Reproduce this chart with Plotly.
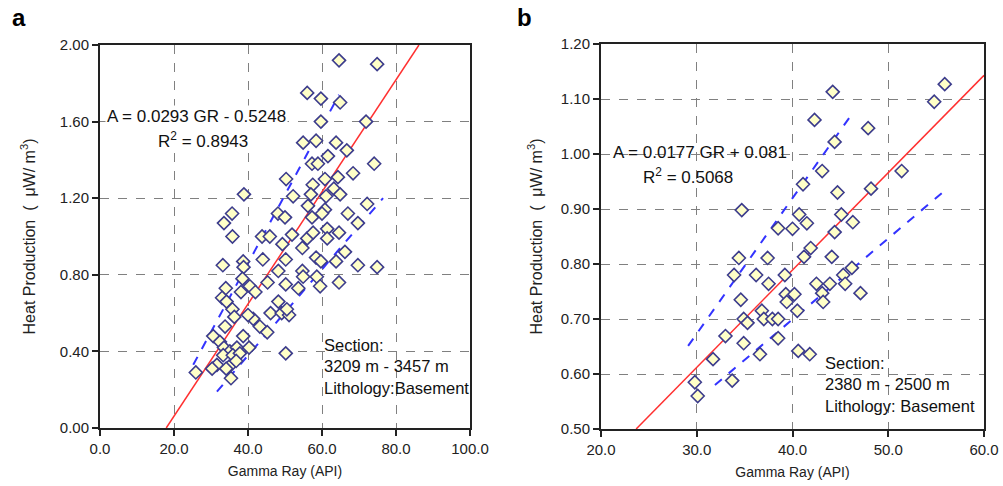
import plotly.graph_objects as go

# ---------------- Panel a data ----------------
gr_a = [64.6, 74.9, 56.0, 59.7, 64.9, 59.7, 71.9, 54.9, 58.4, 63.8, 66.7, 57.3, 58.9, 61.6, 74.1,
        50.3, 57.5, 60.8, 64.3, 68.4, 52.2, 57.0, 61.1, 63.2, 64.9, 56.2, 60.8, 60.0, 72.2, 48.1,
        50.0, 57.3, 67.0, 69.7, 38.9, 33.5, 35.7,
        43.8, 45.9, 51.9, 56.0, 57.6, 61.4, 61.4, 64.6, 49.3, 54.7, 66.2, 44.0, 50.2, 58.4, 59.7,
        63.8, 48.2, 54.7, 54.9, 58.6, 69.7, 74.9, 45.3, 50.2, 53.6, 59.5, 64.6, 48.2, 46.1, 49.1,
        51.1, 41.4, 43.2, 45.2, 50.2,
        35.8, 33.2, 38.7, 38.8, 38.5, 40.5, 34.0, 38.1, 33.0, 34.2, 35.8, 36.3, 40.0, 33.8, 30.6,
        32.4, 38.7, 33.5, 35.1, 37.0, 40.3, 33.3, 35.9, 37.8, 31.6, 34.9, 30.3, 34.1, 25.9, 35.4,
        36.8, 42.0, 50.5]
hp_a = [1.92, 1.90, 1.75, 1.72, 1.70, 1.60, 1.60, 1.49, 1.50, 1.49, 1.45, 1.38, 1.38, 1.42, 1.38,
        1.30, 1.27, 1.30, 1.31, 1.33, 1.21, 1.22, 1.21, 1.25, 1.22, 1.16, 1.14, 1.12, 1.17, 1.12,
        1.10, 1.10, 1.12, 1.07, 1.22, 1.07, 1.12,
        1.00, 1.00, 1.01, 0.99, 1.02, 1.04, 0.99, 1.02, 0.96, 0.94, 0.92, 0.88, 0.88, 0.89, 0.87,
        0.87, 0.82, 0.82, 0.79, 0.79, 0.85, 0.84, 0.76, 0.75, 0.73, 0.74, 0.76, 0.66, 0.60, 0.60,
        0.59, 0.57, 0.53, 0.50, 0.39,
        1.00, 0.85, 0.87, 0.84, 0.78, 0.74, 0.73, 0.71, 0.68, 0.66, 0.62, 0.58, 0.59, 0.53, 0.48,
        0.45, 0.48, 0.42, 0.40, 0.42, 0.42, 0.38, 0.38, 0.39, 0.33, 0.32, 0.31, 0.31, 0.29, 0.26,
        0.35, 0.71, 0.62]
fit_a_x = [17.9, 86.2]
fit_a_y = [0.0, 2.0]
upper_a_x = [25.2, 64.6]
upper_a_y = [0.33, 1.74]
lower_a_x = [31.6, 76.5]
lower_a_y = [0.19, 1.20]

# ---------------- Panel b data ----------------
gr_b = [34.7, 38.5, 44.2, 42.3, 47.9, 44.4, 54.8, 55.9, 43.1, 51.4, 41.1, 44.7, 48.2, 40.7, 45.1,
        41.5, 46.3, 40.0, 44.4, 41.9, 41.2, 44.1, 39.2, 42.5, 43.9, 45.3, 46.2, 45.5, 43.1, 43.2,
        47.1, 39.3, 40.2, 39.4, 40.5, 40.6, 41.8, 34.4, 37.4, 33.9, 36.2, 37.5, 34.6, 36.8, 34.9,
        37.0, 35.3, 37.9, 38.5, 33.0, 38.5, 34.9, 36.6, 31.7, 29.8, 33.7, 30.1]
hp_b = [0.898, 0.865, 1.113, 1.062, 1.047, 1.022, 1.095, 1.127, 0.969, 0.969, 0.945, 0.930, 0.937,
        0.890, 0.890, 0.874, 0.876, 0.864, 0.858, 0.829, 0.813, 0.813, 0.780, 0.764, 0.764, 0.780,
        0.793, 0.764, 0.747, 0.731, 0.747, 0.745, 0.745, 0.731, 0.715, 0.642, 0.636, 0.811, 0.811,
        0.780, 0.780, 0.764, 0.735, 0.715, 0.700, 0.700, 0.693, 0.700, 0.700, 0.669, 0.665, 0.656,
        0.636, 0.627, 0.585, 0.588, 0.560]
fit_b_x = [23.67, 60.0]
fit_b_y = [0.50, 1.143]
upper_b_x = [29.1, 46.3]
upper_b_y = [0.651, 1.075]
lower_b_x = [31.9, 55.6]
lower_b_y = [0.580, 0.929]

x_ticks_a = [0, 20, 40, 60, 80, 100]
y_ticks_a = [0.0, 0.4, 0.8, 1.2, 1.6, 2.0]
x_ticks_b = [20, 30, 40, 50, 60]
y_ticks_b = [0.5, 0.6, 0.7, 0.8, 0.9, 1.0, 1.1, 1.2]

FONT = "Liberation Sans, Arial, sans-serif"
marker = dict(symbol="diamond", size=10, color="#FFFFC8", line=dict(color="#3C3C8C", width=1.6))
red = dict(color="#FF3030", width=1.5)
blue = dict(color="#3333FF", width=2, dash="dash")

fig = go.Figure()
# panel a
fig.add_trace(go.Scatter(x=fit_a_x, y=fit_a_y, mode="lines", line=red, xaxis="x", yaxis="y"))
fig.add_trace(go.Scatter(x=upper_a_x, y=upper_a_y, mode="lines", line=blue, xaxis="x", yaxis="y"))
fig.add_trace(go.Scatter(x=lower_a_x, y=lower_a_y, mode="lines", line=blue, xaxis="x", yaxis="y"))
fig.add_trace(go.Scatter(x=gr_a, y=hp_a, mode="markers", marker=marker, xaxis="x", yaxis="y"))
# panel b
fig.add_trace(go.Scatter(x=fit_b_x, y=fit_b_y, mode="lines", line=red, xaxis="x2", yaxis="y2"))
fig.add_trace(go.Scatter(x=upper_b_x, y=upper_b_y, mode="lines", line=blue, xaxis="x2", yaxis="y2"))
fig.add_trace(go.Scatter(x=lower_b_x, y=lower_b_y, mode="lines", line=blue, xaxis="x2", yaxis="y2"))
fig.add_trace(go.Scatter(x=gr_b, y=hp_b, mode="markers", marker=marker, xaxis="x2", yaxis="y2"))

W, H = 1003, 486
def ax_common():
    return dict(showline=True, linecolor="#222222", linewidth=2, mirror=True, automargin=False,
                ticks="outside", ticklen=6, tickwidth=1.5, tickcolor="#222222",
                showgrid=True, gridcolor="#808080", gridwidth=1, griddash="dash",
                zeroline=False, tickfont=dict(family=FONT, size=15, color="#222222"))

xtitle_font = dict(family=FONT, size=14, color="#222222")
ytitle_font = dict(family=FONT, size=16, color="#222222")
ytitle = "Heat Production  (  μW/ m<sup>3</sup>)"
fig.update_layout(
    width=W, height=H, margin=dict(l=0, r=0, t=0, b=0),
    paper_bgcolor="white", plot_bgcolor="white", showlegend=False,
    xaxis=dict(**ax_common(), domain=[100 / W, 470 / W], range=[0, 100], tickvals=x_ticks_a,
               tickformat=".1f", anchor="y",
               title=dict(text="Gamma Ray (API)", font=xtitle_font, standoff=10)),
    yaxis=dict(**ax_common(), domain=[1 - 428 / H, 1 - 45 / H], range=[0, 2.0], tickvals=y_ticks_a,
               tickformat=".2f", anchor="x",
               title=dict(text=ytitle, font=ytitle_font, standoff=20)),
    xaxis2=dict(**ax_common(), domain=[601 / W, 984 / W], range=[20, 60], tickvals=x_ticks_b,
                tickformat=".1f", anchor="y2",
                title=dict(text="Gamma Ray (API)", font=xtitle_font, standoff=10)),
    yaxis2=dict(**ax_common(), domain=[1 - 429 / H, 1 - 44 / H], range=[0.5, 1.2], tickvals=y_ticks_b,
                tickformat=".2f", anchor="x2",
                title=dict(text=ytitle, font=ytitle_font, standoff=14)),
)

eq_font = dict(family=FONT, size=17, color="#111111")
sec_font = dict(family=FONT, size=16.5, color="#111111")
ann = [
    dict(text="<b>a</b>", x=10 / W, y=1 - 18 / H, xref="paper", yref="paper", xanchor="left",
         yanchor="middle", showarrow=False, font=dict(family=FONT, size=24, color="black")),
    dict(text="<b>b</b>", x=515 / W, y=1 - 18 / H, xref="paper", yref="paper", xanchor="left",
         yanchor="middle", showarrow=False, font=dict(family=FONT, size=24, color="black")),
    dict(text="A = 0.0293 GR - 0.5248", x=105 / W, y=1 - 117 / H, xref="paper", yref="paper",
         xanchor="left", yanchor="middle", showarrow=False, font=eq_font, bgcolor="white"),
    dict(text="R<sup>2</sup> = 0.8943", x=156 / W, y=1 - 140 / H, xref="paper", yref="paper",
         xanchor="left", yanchor="middle", showarrow=False, font=eq_font, bgcolor="white"),
    dict(text="Section:<br>3209 m - 3457 m<br>Lithology:Basement", x=322 / W, y=1 - 366 / H,
         xref="paper", yref="paper", xanchor="left", yanchor="middle", align="left",
         showarrow=False, font=sec_font),
    dict(text="A = 0.0177 GR + 0.081", x=611 / W, y=1 - 152 / H, xref="paper", yref="paper",
         xanchor="left", yanchor="middle", showarrow=False, font=eq_font),
    dict(text="R<sup>2</sup> = 0.5068", x=641 / W, y=1 - 176 / H, xref="paper", yref="paper",
         xanchor="left", yanchor="middle", showarrow=False, font=eq_font),
    dict(text="Section:<br>2380 m - 2500 m<br>Lithology: Basement", x=823 / W, y=1 - 384 / H,
         xref="paper", yref="paper", xanchor="left", yanchor="middle", align="left",
         showarrow=False, font=sec_font),
]
fig.update_layout(annotations=ann)
fig.write_html("out.html")
